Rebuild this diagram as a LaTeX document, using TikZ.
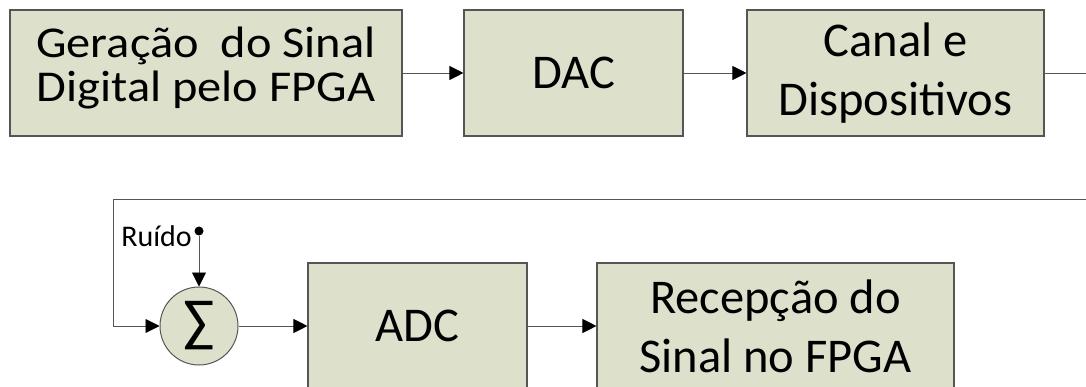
\documentclass[tikz,border=0pt]{standalone}
\usepackage{fontspec}
\setmainfont{Carlito}
\newfontfamily\widefont[FakeStretch=1.1]{Carlito}
\usetikzlibrary{arrows.meta}
\definecolor{boxfill}{RGB}{221,224,203}
\definecolor{edge}{RGB}{85,85,85}
\begin{document}
\begin{tikzpicture}[x=1pt,y=-1pt,
  block/.style={draw=edge, line width=1.1pt, fill=boxfill, align=center,
    inner sep=0pt, font=\fontsize{48.5}{59}\selectfont},
  wire/.style={draw=edge, line width=0.9pt},
  flow/.style={wire, -{Triangle[length=14pt,width=14pt,color=black]}},
  ]
\useasboundingbox (0,0) rectangle (1086,387);
\clip (0,0) rectangle (1086,387);

% transmit chain
\node[block, minimum width=392pt, minimum height=126pt, text depth=18pt,
  font=\widefont\fontsize{44}{44}\selectfont] (gen) at (206,73)
  {Geração\ \ do Sinal\\Digital pelo FPGA};
\node[block, minimum width=219pt, minimum height=126pt] (dac) at (573.5,73) {DAC};
\node[block, minimum width=297pt, minimum height=126pt] (canal) at (895.5,73)
  {Canal e\\Dispositivos};
\coordinate (topout) at (1086,73);

% receive chain
\coordinate (fbin) at (1086,199);
\coordinate (fbcorner) at (113,199);
\node[circle, draw=edge, line width=1pt, fill=boxfill, minimum size=78pt,
  inner sep=0pt, font=\fontsize{58}{60}\selectfont] (sum) at (199,326) {∑};
\node[circle, fill=black, inner sep=0pt, minimum size=9pt] (noise) at (199,231) {};
\node[anchor=base east, inner sep=0pt, font=\fontsize{30}{36}\selectfont]
  (noiselbl) at (192,247) {Ruído};
\node[block, minimum width=219pt, minimum height=126pt] (adc) at (417.5,326) {ADC};
\node[block, minimum width=357pt, minimum height=126pt] (rec) at (775.5,326)
  {Recepção do\\Sinal no FPGA};

% connectors
\draw[flow] (gen.east) -- (dac.west);
\draw[flow] (dac.east) -- (canal.west);
\draw[wire] (canal.east) -- (topout);
\draw[flow] (fbin) -- (fbcorner) |- (sum.west);
\draw[flow] (noise) -- (sum.north);
\draw[flow] (sum.east) -- (adc.west);
\draw[flow] (adc.east) -- (rec.west);
\end{tikzpicture}
\end{document}
